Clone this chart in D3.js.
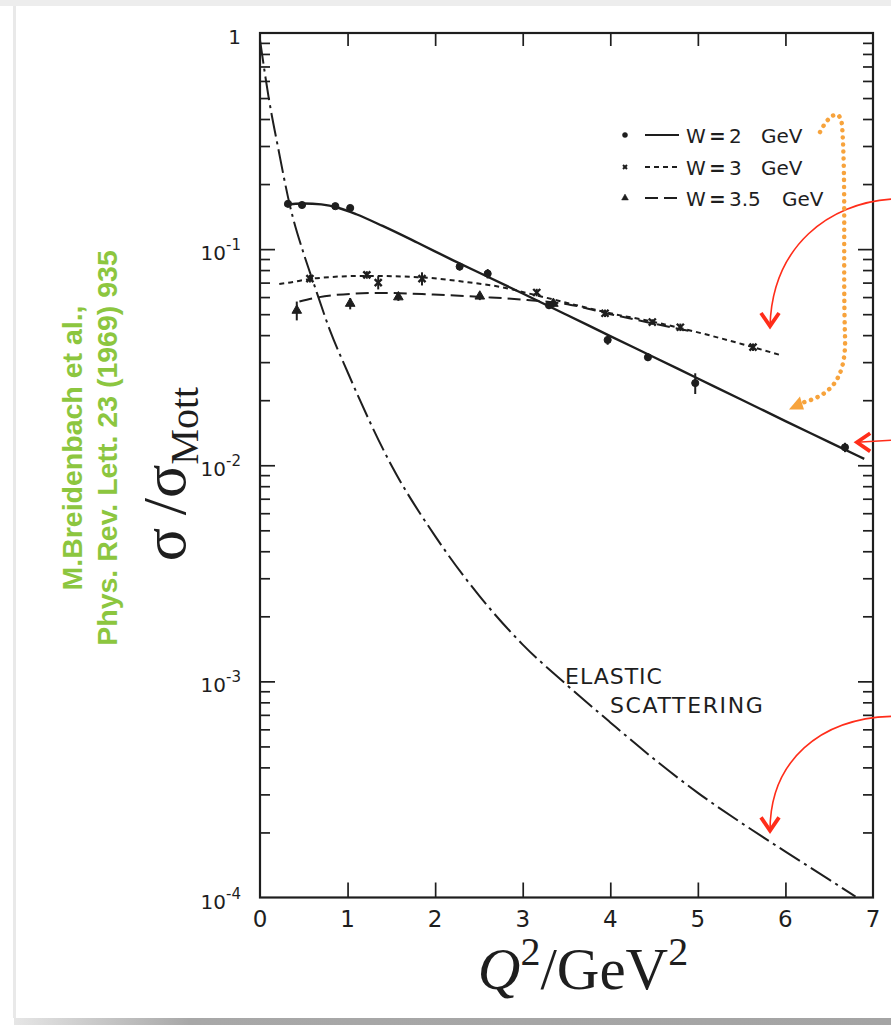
<!DOCTYPE html>
<html>
<head>
<meta charset="utf-8">
<script src="https://cdn.jsdelivr.net/npm/d3@7"></script>
<style>
body { margin: 0; background: #fff; }
svg { display: block; }
.tick line { stroke: #1e1e1e; stroke-width: 1.7px; }
.lbl { font-family: "DejaVu Sans", sans-serif; fill: #1e1e1e; }
</style>
</head>
<body>
<script>
var width = 891,
    height = 1025;

// axis ticks
var xTicks = [0, 1, 2, 3, 4, 5, 6, 7];
var yMajor = [1e-4, 1e-3, 1e-2, 1e-1, 1];
var yTickBase = ["10", "10", "10", "10", "1"];
var yTickExp = ["-4", "-3", "-2", "-1", ""];

// fitted curves  [Q^2, sigma/sigmaMott]
var w2Curve = [[0.28,0.160],[0.5,0.1625],[0.7,0.161],[0.9,0.155],[1.1,0.145],[1.4,0.128],[1.8,0.107],[2.2,0.0890],
  [2.6,0.0745],[3.0,0.0623],[3.5,0.0497],[4.0,0.0396],[4.5,0.0316],[5.0,0.0252],[5.5,0.0201],[6.0,0.0160],[6.5,0.0128],[6.9,0.0107]];
var w3Curve = [[0.22,0.0690],[0.3,0.0697],[0.65,0.0734],[1.2,0.0752],[1.8,0.0742],[2.35,0.0705],[2.75,0.0668],
  [3.2,0.0605],[3.6,0.0552],[4.0,0.0505],[4.5,0.0460],[5.0,0.0412],[5.5,0.0364],[5.96,0.0322]];
var w35Curve = [[0.45,0.0572],[0.83,0.0612],[1.4,0.0627],[1.98,0.0616],[2.55,0.0600],[3.05,0.0582],[3.55,0.0552],
  [4.0,0.0500],[4.5,0.0452],[4.9,0.0418]];
var elasticCurve = [[0,0.93],[0.1,0.50],[0.21,0.29],[0.34,0.16],[0.5,0.095],[0.6,0.072],[0.8,0.042],[1.0,0.027],
  [1.5,0.0100],[2.0,0.0047],[2.5,0.0025],[3.0,0.00148],[3.5,0.000966],[4.0,0.000646],[4.5,0.000437],
  [5.0,0.000305],[5.5,0.000221],[6.0,0.000163],[6.5,0.000121],[6.8,0.000101]];

// measured points [Q^2, value, relative error]
var w2Points = [[0.32,0.162,0.03],[0.48,0.160,0.03],[0.86,0.158,0.03],[1.03,0.155,0.03],[2.28,0.083,0.04],
  [2.6,0.077,0.05],[3.3,0.055,0.04],[3.97,0.038,0.05],[4.43,0.0316,0.04],[4.97,0.024,0.11],[6.68,0.0121,0.05]];
var w3Points = [[0.57,0.073,0.04],[1.22,0.076,0.04],[1.35,0.070,0.07],[1.85,0.073,0.07],[3.16,0.063,0.04],
  [3.94,0.0505,0.04],[4.48,0.046,0.03],[4.8,0.0435,0.04],[5.63,0.0352,0.04]];
var w35Points = [[0.42,0.052,0.10],[1.03,0.056,0.06],[1.58,0.060,0.04],[2.51,0.0605,0.04],[3.35,0.056,0.04]];

var legendW = ["2", "3", "3.5"];
var legendDash = [null, "5,4", "13,6"];

// overlay arrows, in plot coordinates
var redArrowTop = [[7.21,0.1704],[6.51,0.1633],[5.85,0.1043],[5.824,0.044]];
var redArrowMid = [[7.21,0.01305],[6.817,0.01277]];
var redArrowLow = [[7.21,0.000689],[6.40,0.000674],[5.824,0.000431],[5.824,0.000204]];
var orangeArrow = [[6.395,0.348],[6.486,0.413],[6.623,0.459],[6.646,0.375],[6.692,0.209],[6.657,0.0799],
  [6.68,0.040],[6.703,0.0235],[6.452,0.0209],[6.20,0.0195]];

var svg = d3.select("body").append("svg")
    .attr("width", width)
    .attr("height", height);

// slide frame
var defs = svg.append("defs");
var grad = defs.append("linearGradient").attr("id", "shadow");
grad.append("stop").attr("offset", "0").attr("stop-color", "#e6e6e6");
grad.append("stop").attr("offset", "0.2").attr("stop-color", "#a8a8a8");
grad.append("stop").attr("offset", "1").attr("stop-color", "#a4a4a4");
svg.append("rect").attr("x", 0).attr("y", 0).attr("width", width).attr("height", 6).attr("fill", "#ededed");
svg.append("rect").attr("x", 13).attr("y", 6).attr("width", 3).attr("height", 1012).attr("fill", "#e9e9e9");
svg.append("rect").attr("x", 14).attr("y", 1018).attr("width", width - 14).attr("height", 7).attr("fill", "url(#shadow)");

var x = d3.scaleLinear().domain([0, 7]).range([260, 873]);
var y = d3.scaleLog().domain([1e-4, 1]).range([897.5, 33]);

var minor = [];
for (var e = -4; e < 0; e++) for (var k = 2; k <= 9; k++) minor.push(k * Math.pow(10, e));

// ticks, all inward
function ticks(axis, g) { g.call(axis); g.select(".domain").remove(); }
ticks(d3.axisBottom(x).tickValues(xTicks.slice(1, 7)).tickSizeInner(-15).tickSizeOuter(0).tickFormat(""),
  svg.append("g").attr("transform", "translate(0,897.5)"));
ticks(d3.axisTop(x).tickValues(xTicks.slice(1, 7)).tickSizeInner(-13).tickSizeOuter(0).tickFormat(""),
  svg.append("g").attr("transform", "translate(0,33)"));
ticks(d3.axisLeft(y).tickValues(yMajor.slice(1, 4)).tickSizeInner(-15).tickSizeOuter(0).tickFormat(""),
  svg.append("g").attr("transform", "translate(260,0)"));
ticks(d3.axisLeft(y).tickValues(minor).tickSizeInner(-10).tickSizeOuter(0).tickFormat(""),
  svg.append("g").attr("transform", "translate(260,0)"));
ticks(d3.axisRight(y).tickValues(yMajor.slice(1, 4)).tickSizeInner(-15).tickSizeOuter(0).tickFormat(""),
  svg.append("g").attr("transform", "translate(873,0)"));
ticks(d3.axisRight(y).tickValues(minor).tickSizeInner(-10).tickSizeOuter(0).tickFormat(""),
  svg.append("g").attr("transform", "translate(873,0)"));

svg.append("rect")
    .attr("x", x(0)).attr("y", y(1))
    .attr("width", x(7) - x(0)).attr("height", y(1e-4) - y(1))
    .attr("fill", "none").attr("stroke", "#1e1e1e").attr("stroke-width", 2.2);

// tick labels
svg.selectAll(".xl").data(xTicks).enter().append("text")
    .attr("class", "lbl")
    .attr("x", function(d) { return x(d); })
    .attr("y", 927)
    .attr("text-anchor", "middle")
    .attr("font-size", 23)
    .text(function(d) { return d; });

var yl = svg.selectAll(".yl").data(yMajor).enter().append("text")
    .attr("class", "lbl")
    .attr("x", 241)
    .attr("y", function(d) { return y(d) + 11; })
    .attr("text-anchor", "end")
    .attr("font-size", 20);
yl.append("tspan").text(function(d, i) { return yTickBase[i]; });
yl.append("tspan").attr("dy", -10).attr("font-size", 15).text(function(d, i) { return yTickExp[i]; });

// curves
var line = d3.line()
    .x(function(d) { return x(d[0]); })
    .y(function(d) { return y(d[1]); })
    .curve(d3.curveMonotoneX);

svg.append("path").datum(elasticCurve).attr("d", line)
    .attr("fill", "none").attr("stroke", "#1e1e1e").attr("stroke-width", 2)
    .attr("stroke-dasharray", "24,5,3,5");
svg.append("path").datum(w35Curve).attr("d", line)
    .attr("fill", "none").attr("stroke", "#1e1e1e").attr("stroke-width", 2)
    .attr("stroke-dasharray", legendDash[2]);
svg.append("path").datum(w3Curve).attr("d", line)
    .attr("fill", "none").attr("stroke", "#1e1e1e").attr("stroke-width", 2)
    .attr("stroke-dasharray", legendDash[1]);
svg.append("path").datum(w2Curve).attr("d", line)
    .attr("fill", "none").attr("stroke", "#1e1e1e").attr("stroke-width", 2.4);

// points with error bars
var symbols = [d3.symbolCircle, d3.symbolTimes, d3.symbolTriangle];
[w2Points, w3Points, w35Points].forEach(function(pts, s) {
  var g = svg.append("g");
  g.selectAll("line").data(pts).enter().append("line")
      .attr("x1", function(d) { return x(d[0]); })
      .attr("x2", function(d) { return x(d[0]); })
      .attr("y1", function(d) { return y(d[1] * (1 + d[2])); })
      .attr("y2", function(d) { return y(d[1] * (1 - d[2])); })
      .attr("stroke", "#1e1e1e").attr("stroke-width", 2);
  g.selectAll("path").data(pts).enter().append("path")
      .attr("transform", function(d) { return "translate(" + x(d[0]) + "," + y(d[1]) + ")"; })
      .attr("d", d3.symbol().type(symbols[s]).size(s == 1 ? 34 : 40))
      .attr("fill", "#1e1e1e").attr("stroke", "#1e1e1e").attr("stroke-width", s == 1 ? 2.4 : 1);
});

// legend
var leg = svg.append("g");
legendW.forEach(function(w, i) {
  var ly = [135, 167, 198][i];
  leg.append("path").attr("transform", "translate(625," + ly + ")")
      .attr("d", d3.symbol().type(symbols[i]).size(i == 1 ? 12 : 20))
      .attr("fill", "#1e1e1e").attr("stroke", "#1e1e1e").attr("stroke-width", i == 1 ? 2 : 0.5);
  leg.append("line").attr("x1", 645).attr("x2", 679).attr("y1", ly).attr("y2", ly)
      .attr("stroke", "#1e1e1e").attr("stroke-width", 2)
      .attr("stroke-dasharray", legendDash[i]);
  var t = leg.append("text").attr("class", "lbl").attr("y", ly + 7.5).attr("font-size", 20);
  t.append("tspan").attr("x", 686).text("W");
  t.append("tspan").attr("x", 709).attr("font-weight", "bold").text("=");
  t.append("tspan").attr("x", 729).text(w);
  t.append("tspan").attr("x", i == 2 ? 782 : 761).text("GeV");
});

// elastic label
svg.append("text").attr("class", "lbl").attr("x", 565).attr("y", 684)
    .attr("font-size", 22).attr("letter-spacing", 1).text("ELASTIC");
svg.append("text").attr("class", "lbl").attr("x", 610).attr("y", 713)
    .attr("font-size", 22).attr("letter-spacing", 1.6).text("SCATTERING");

// axis titles
svg.append("text")
    .attr("x", 583).attr("y", 989)
    .attr("text-anchor", "middle")
    .attr("font-family", "'Liberation Serif', 'DejaVu Serif', serif")
    .attr("font-size", 59).attr("fill", "#1e1e1e")
    .call(function(t) {
      t.append("tspan").attr("font-style", "italic").text("Q");
      t.append("tspan").attr("font-size", 40).attr("dy", -24).text("2");
      t.append("tspan").attr("dy", 24).text("/GeV");
      t.append("tspan").attr("font-size", 40).attr("dy", -24).text("2");
    });

svg.append("text")
    .attr("transform", "translate(185,474) rotate(-90)")
    .attr("text-anchor", "middle")
    .attr("font-family", "'Liberation Serif', 'DejaVu Serif', serif")
    .attr("font-size", 62).attr("fill", "#1e1e1e")
    .call(function(t) {
      t.append("tspan").text("\u03c3\u2009/\u03c3");
      t.append("tspan").attr("font-size", 40).attr("dy", 13).text("Mott");
    });

// citation
var cite = svg.append("text")
    .attr("transform", "translate(0,448) rotate(-90)")
    .attr("text-anchor", "middle")
    .attr("font-family", "'Liberation Sans', Arial, sans-serif")
    .attr("font-weight", "bold")
    .attr("font-size", 28.5)
    .attr("fill", "#8cc63f");
cite.append("tspan").attr("x", 0).attr("y", 82).text("M.Breidenbach et al.,");
cite.append("tspan").attr("x", 0).attr("y", 117).text("Phys. Rev. Lett. 23 (1969) 935");

// overlay arrows
function P(d) { return x(d[0]) + "," + y(d[1]); }
function chevron(tip, ang) {
  var a1 = ang + 0.6, a2 = ang - 0.6, L = 16;
  var tx = x(tip[0]), ty = y(tip[1]);
  return "M" + (tx - L * Math.cos(a1)) + "," + (ty - L * Math.sin(a1)) + "L" + tx + "," + ty +
         "L" + (tx - L * Math.cos(a2)) + "," + (ty - L * Math.sin(a2));
}
var red = "#ff2d1a";
svg.append("path").attr("d", "M" + P(redArrowTop[0]) + "C" + P(redArrowTop[1]) + " " + P(redArrowTop[2]) + " " + P(redArrowTop[3]))
    .attr("fill", "none").attr("stroke", red).attr("stroke-width", 1.6);
svg.append("path").attr("d", chevron(redArrowTop[3], Math.PI / 2))
    .attr("fill", "none").attr("stroke", red).attr("stroke-width", 3.8);
svg.append("path").attr("d", "M" + P(redArrowMid[0]) + "L" + P(redArrowMid[1]))
    .attr("fill", "none").attr("stroke", red).attr("stroke-width", 1.6);
svg.append("path").attr("d", chevron(redArrowMid[1], Math.PI))
    .attr("fill", "none").attr("stroke", red).attr("stroke-width", 3.8);
svg.append("path").attr("d", "M" + P(redArrowLow[0]) + "C" + P(redArrowLow[1]) + " " + P(redArrowLow[2]) + " " + P(redArrowLow[3]))
    .attr("fill", "none").attr("stroke", red).attr("stroke-width", 1.6);
svg.append("path").attr("d", chevron(redArrowLow[3], Math.PI / 2))
    .attr("fill", "none").attr("stroke", red).attr("stroke-width", 3.8);

var o = orangeArrow;
svg.append("path")
    .attr("d", "M" + P(o[0]) + "C" + P(o[1]) + " " + P(o[2]) + " " + P(o[3]) +
               "C" + P(o[4]) + " " + P(o[5]) + " " + P(o[6]) +
               "C" + P(o[7]) + " " + P(o[8]) + " " + P(o[9]))
    .attr("fill", "none").attr("stroke", "#f7a33c").attr("stroke-width", 4.5)
    .attr("stroke-linecap", "round").attr("stroke-dasharray", "0.1,7");
var ot = o[9];
svg.append("path")
    .attr("d", "M" + (x(ot[0]) - 14) + "," + (y(ot[1]) + 7) + "L" + (x(ot[0]) + 1) + "," + (y(ot[1]) + 7) +
               "L" + (x(ot[0]) - 3) + "," + (y(ot[1]) - 6) + "Z")
    .attr("fill", "#f7a33c");
</script>
</body>
</html>
